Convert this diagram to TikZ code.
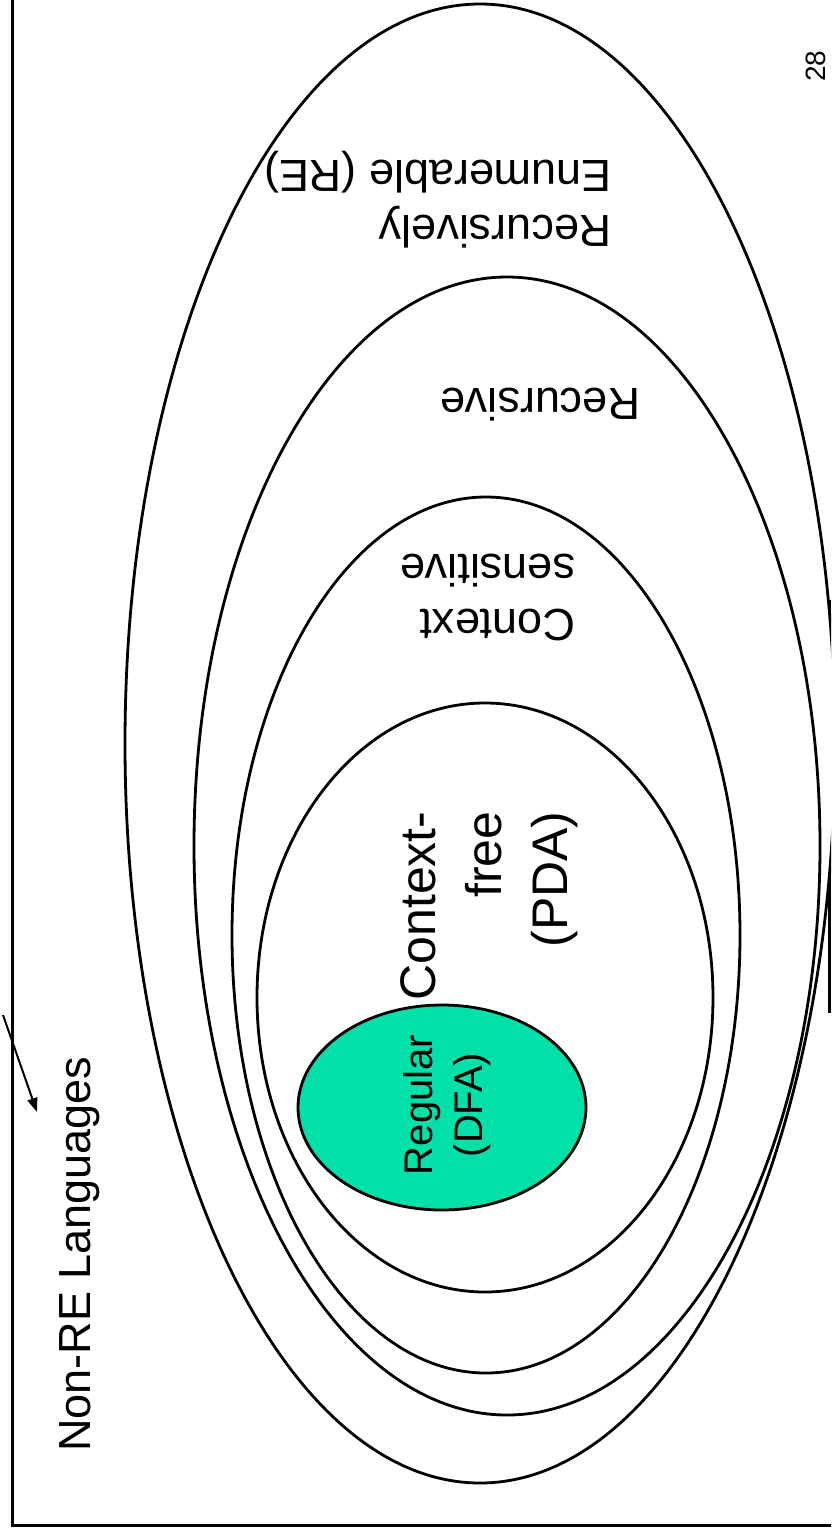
\documentclass[tikz,border=0pt]{standalone}
\usepackage{fontspec}
\setmainfont{Liberation Sans}
\usetikzlibrary{arrows.meta}
\definecolor{regular}{RGB}{0,224,168}

\begin{document}
\begin{tikzpicture}[x=1pt,y=-1pt,
	big/.style={font=\fontsize{45}{55}\selectfont, inner sep=0pt},
	ring/.style={line width=2.8pt}]
	\useasboundingbox (0,0) rectangle (831,1535);
	\clip (0,0) rectangle (831,1535);
	
	% frame
	\draw[line width=3pt] (12,-20) -- (12,1525) -- (860,1525);
	\draw[line width=3pt] (829,600) -- (829,1013);
	
	% language classes
	\draw[ring, fill=white] (480,743.5) ellipse [x radius=355, y radius=739.5];
	\draw[ring] (507,846) ellipse [x radius=313, y radius=569];
	\draw[ring] (486,935) ellipse [x radius=254, y radius=438];
	\draw[ring] (485,997.5) ellipse [x radius=228, y radius=294.5];
	\draw[ring, fill=regular] (442,1107.5) ellipse [x radius=144, y radius=102.5];
	
	% labels
	\node[big, rotate=180, align=left] (re) at (438,199.5) {Recursively\\Enumerable (RE)};
	\node[big, rotate=180] (rec) at (540,405) {Recursive};
	\node[big, rotate=180, align=left] (cs) at (487.5,597) {Context\\sensitive};
	\node[font=\fontsize{50}{66}\selectfont, inner sep=0pt, rotate=90, align=right] (cf) at (489,906) {Context-\\free\\(PDA)};
	\node[font=\fontsize{40}{50}\selectfont, inner sep=0pt, rotate=90, align=center] (reg) at (447,1105) {Regular\\(DFA)};
	
	% outside
	\node[big, rotate=90, anchor=base west] (nonre) at (90,1452) {Non-RE Languages};
	\coordinate (tail) at (3,1015);
	\coordinate (tip) at (37,1112);
	\draw[line width=2pt, -{Triangle[length=14pt, width=10pt]}] (tail) -- (tip);
	
	% page number
	\node[font=\fontsize{28}{34}\selectfont, inner sep=0pt, rotate=90, anchor=base west] (page) at (825,82) {28};
	
\end{tikzpicture}
\end{document}
